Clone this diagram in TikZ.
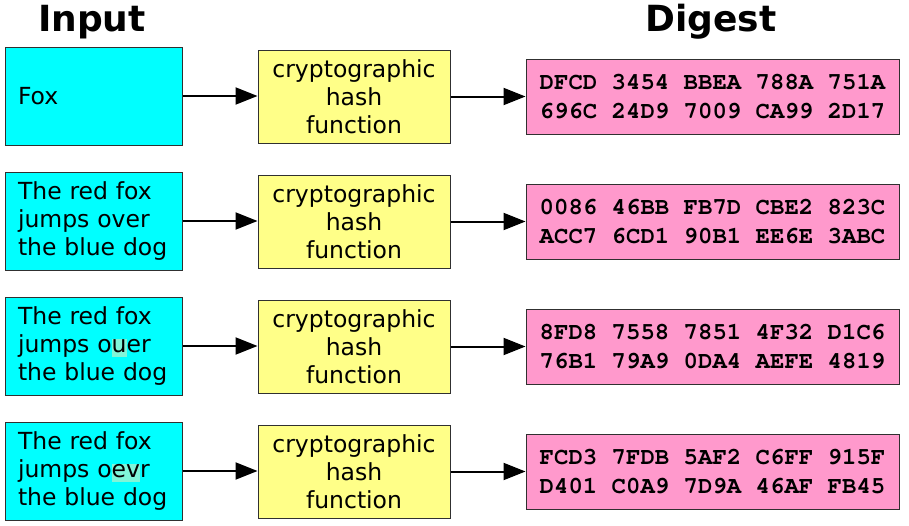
\documentclass[tikz,border=0pt]{standalone}
\usepackage{fontspec}
\setmainfont{DejaVu Sans}
\newfontfamily\hashfont{TeX Gyre Cursor}
\usetikzlibrary{arrows.meta}
\definecolor{incol}{HTML}{00FFFF}
\definecolor{fncol}{HTML}{FFFF88}
\definecolor{dgcol}{HTML}{FF99CC}
\definecolor{hlcol}{HTML}{80F5D8}
\definecolor{edgecol}{HTML}{303030}
\newcommand\hlmark[1]{\setbox0\hbox{#1}\rlap{\textcolor{hlcol}{\rule[-5pt]{\wd0}{18pt}}}#1}
\tikzset{
  inbox/.style={draw=edgecol, line width=1pt, fill=incol, minimum width=177pt, minimum height=98pt,
    text width=155pt, inner xsep=11pt, align=left, font=\fontsize{23.5pt}{28pt}\selectfont},
  fnbox/.style={draw=edgecol, line width=1pt, fill=fncol, minimum width=192pt, minimum height=93pt,
    inner sep=0pt, align=center, font=\fontsize{23.5pt}{28pt}\selectfont},
  dgbox/.style={draw=edgecol, line width=1pt, fill=dgcol, minimum width=373pt, minimum height=75pt,
    inner sep=0pt, align=center, font=\hashfont\bfseries\fontsize{24pt}{29pt}\selectfont},
  title/.style={font=\bfseries\fontsize{36pt}{40pt}\selectfont, inner sep=0pt},
  link/.style={line width=2pt, -{Triangle[length=22pt,width=17pt]}}
}
\begin{document}
\begin{tikzpicture}[x=1pt,y=-1pt]
\useasboundingbox (0,0) rectangle (909,525);
\node[title] (tin) at (92,22) {Input};
\node[title] (tdg) at (711,22) {Digest};
% row 1
\node[inbox] (i1) at (93.5,96) {\hspace*{2pt}Fox};
\node[fnbox] (f1) at (354,96.5) {cryptographic\\hash\\function};
\node[dgbox] (d1) at (712.5,97) {DFCD 3454 BBEA 788A 751A\\696C 24D9 7009 CA99 2D17};
% row 2
\node[inbox] (i2) at (93.5,221) {\hspace*{2pt}The red fox\\\hspace*{2pt}jumps over\\\hspace*{2pt}the blue dog};
\node[fnbox] (f2) at (354,221.5) {cryptographic\\hash\\function};
\node[dgbox] (d2) at (712.5,222) {0086 46BB FB7D CBE2 823C\\ACC7 6CD1 90B1 EE6E 3ABC};
% row 3
\node[inbox] (i3) at (93.5,346) {\hspace*{2pt}The red fox\\\hspace*{2pt}jumps o\hlmark{u}er\\\hspace*{2pt}the blue dog};
\node[fnbox] (f3) at (354,346.5) {cryptographic\\hash\\function};
\node[dgbox] (d3) at (712.5,347) {8FD8 7558 7851 4F32 D1C6\\76B1 79A9 0DA4 AEFE 4819};
% row 4
\node[inbox] (i4) at (93.5,471) {\hspace*{2pt}The red fox\\\hspace*{2pt}jumps o\hlmark{ev}r\\\hspace*{2pt}the blue dog};
\node[fnbox] (f4) at (354,471.5) {cryptographic\\hash\\function};
\node[dgbox] (d4) at (712.5,472) {FCD3 7FDB 5AF2 C6FF 915F\\D401 C0A9 7D9A 46AF FB45};
% connectors
\foreach \r in {1,2,3,4}{
  \draw[link] (i\r.east) -- (i\r.east -| f\r.west);
  \draw[link] (f\r.east) -- (f\r.east -| d\r.west);
}
\end{tikzpicture}
\end{document}
